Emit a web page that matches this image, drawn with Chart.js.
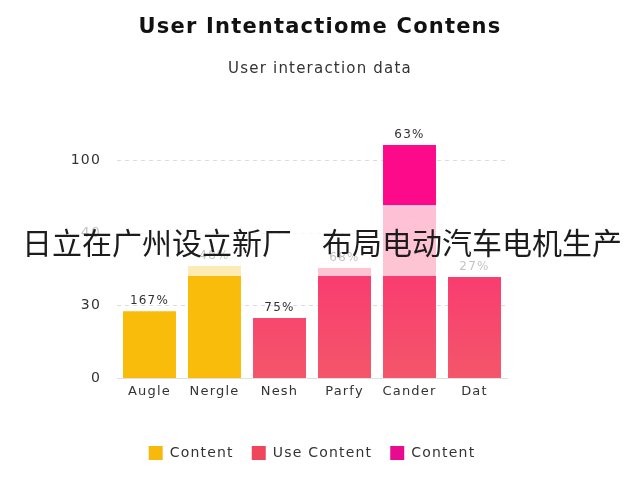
<!DOCTYPE html>
<html>
<head>
<meta charset="utf-8">
<script src="https://cdn.jsdelivr.net/npm/chart.js@4"></script>
<style>
  body { margin: 0; background: #fff; }
  #wrap { position: relative; width: 640px; height: 480px; }
  #banner {
    position: absolute; left: 0; top: 205px; width: 640px; height: 71px;
    background: rgba(255, 255, 255, 0.7);
    display: flex; align-items: center; box-sizing: border-box; padding-left: 22px;
    font-family: "Noto Sans CJK SC", sans-serif; font-size: 30px; color: #1c1c1c;
    white-space: pre;
  }
</style>
</head>
<body>
<div id="wrap">
  <canvas id="chart" width="640" height="480"></canvas>
  <div id="banner">日立在广州设立新厂　布局电动汽车电机生产</div>
</div>
<script>
const categories = ["Augle", "Nergle", "Nesh", "Parfy", "Cander", "Dat"];
const contentValues = [27.7, 46.4, null, null, null, null];
const useContentValues = [null, null, 24.9, 45.6, 71.1, 41.9];
const topContentValues = [null, null, null, null, 25.3, null];
const pctLabels = ["167%", "48%", "75%", "68%", "63%", "27%"];
const yTickValues = [0, 30, 60, 90];
const yTickLabels = ["0", "30", "40", "100"];
const legendColors = ["#f7b90c", "#f0465c", "#e80a8f"];

document.addEventListener("DOMContentLoaded", function () {
    const ctx = document.getElementById("chart").getContext("2d");

    function redGradient(context) {
        const area = context.chart.chartArea;
        if (!area) return "#f8436a";
        const g = context.chart.ctx.createLinearGradient(0, area.top, 0, area.bottom);
        g.addColorStop(0, "#ff1a78");
        g.addColorStop(1, "#f4566a");
        return g;
    }

    // canvas resets its state on resize, so set the spacing before layout and draw
    const spacing = {
        id: "spacing",
        beforeLayout(chart) { chart.ctx.letterSpacing = "1.2px"; },
        beforeDraw(chart) { chart.ctx.letterSpacing = "1.2px"; }
    };

    const pctPlugin = {
        id: "pct",
        afterDatasetsDraw(chart) {
            const c = chart.ctx;
            c.save();
            c.font = "12px 'DejaVu Sans'";
            c.fillStyle = "#333";
            c.textAlign = "center";
            c.textBaseline = "middle";
            categories.forEach((cat, i) => {
                let top = Infinity, x = 0;
                chart.data.datasets.forEach((ds, d) => {
                    if (ds.data[i] == null) return;
                    const el = chart.getDatasetMeta(d).data[i];
                    if (el.y < top) { top = el.y; x = el.x; }
                });
                c.fillText(pctLabels[i], x, top - 10);
            });
            c.restore();
        }
    };

    Chart.defaults.font.family = "'DejaVu Sans'";
    Chart.defaults.color = "#333";

    new Chart(ctx, {
        type: "bar",
        data: {
            labels: categories,
            datasets: [
                { label: "Content", data: contentValues, backgroundColor: "#f9bc0b" },
                { label: "Use Content", data: useContentValues, backgroundColor: redGradient },
                { label: "Content", data: topContentValues, backgroundColor: "#fd0a8b" }
            ]
        },
        options: {
            responsive: false,
            animation: false,
            layout: { padding: { left: 0, right: 0, top: 0, bottom: 10 } },
            datasets: { bar: { categoryPercentage: 1, barPercentage: 0.815, borderWidth: 0 } },
            scales: {
                x: {
                    stacked: true,
                    grid: { display: false, drawTicks: false },
                    border: { display: true, color: "#e0e0e0" },
                    ticks: { font: { size: 13 }, color: "#333", padding: 5 },
                    afterFit: s => { s.height = 49.6; }
                },
                y: {
                    stacked: true,
                    min: 0,
                    max: 100,
                    afterBuildTicks: s => { s.ticks = yTickValues.map(v => ({ value: v })); },
                    ticks: {
                        font: { size: 14 }, color: "#333", padding: 16,
                        callback: (v) => yTickLabels[yTickValues.indexOf(v)]
                    },
                    grid: { color: "#dcdcdc", drawTicks: false },
                    border: { display: false, dash: [4, 4] },
                    afterFit: s => { s.width = 117; }
                },
                yR: {
                    position: "right",
                    display: true,
                    ticks: { display: false },
                    grid: { display: false },
                    border: { display: false },
                    afterFit: s => { s.width = 133; }
                }
            },
            plugins: {
                title: {
                    display: true,
                    text: "User Intentactiome Contens",
                    font: { size: 21, weight: "bold" },
                    color: "#111",
                    padding: { top: 15, bottom: 0 }
                },
                subtitle: {
                    display: true,
                    text: "User interaction data",
                    font: { size: 15 },
                    color: "#333",
                    padding: { top: 20, bottom: 58 }
                },
                legend: {
                    position: "bottom",
                    fullSize: false,
                    labels: {
                        boxWidth: 14,
                        boxHeight: 14,
                        padding: 18,
                        font: { size: 14 },
                        color: "#333",
                        generateLabels: chart => Chart.defaults.plugins.legend.labels.generateLabels(chart)
                            .map((l, i) => ({ ...l, fillStyle: legendColors[i], strokeStyle: legendColors[i], lineWidth: 0 }))
                    }
                },
                tooltip: { enabled: false }
            }
        },
        plugins: [spacing, pctPlugin]
    });
});
</script>
</body>
</html>
